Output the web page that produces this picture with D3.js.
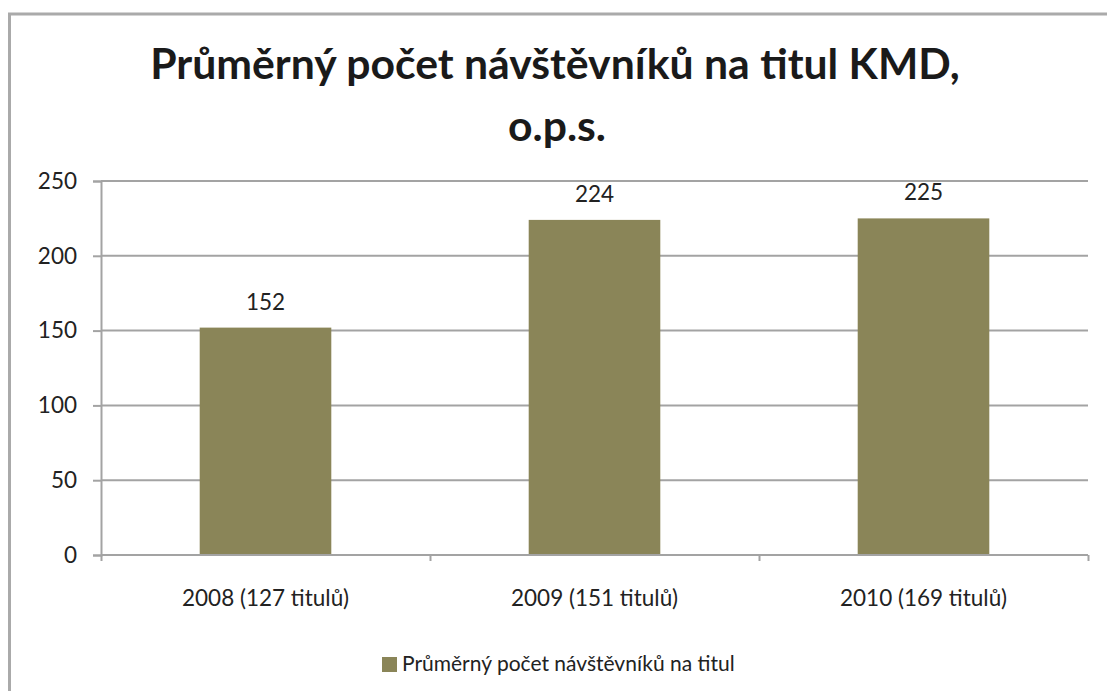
<!DOCTYPE html>
<html>
<head>
<meta charset="utf-8">
<script src="https://cdn.jsdelivr.net/npm/d3@7"></script>
<style>
  html, body { margin: 0; padding: 0; background: #fff; }
  svg { display: block; }
</style>
</head>
<body>
<svg id="chart" width="1107" height="691"></svg>
<script>
const categories = ["2008 (127 titulů)", "2009 (151 titulů)", "2010 (169 titulů)"];
const values = [152, 224, 225];
const yTicks = [0, 50, 100, 150, 200, 250];
const titleLines = ["Průměrný počet návštěvníků na titul KMD,", "o.p.s."];
const seriesName = "Průměrný počet návštěvníků na titul";

(function () {
const W = 1107, H = 691;
const svg = d3.select("#chart");
const barColor = "#8a8558";
const gridColor = "#a3a3a3";
const textColor = "#222";
const font = "Lato, 'Open Sans', sans-serif";
const axisFs = 22.5;

// outer frame
svg.append("rect")
  .attr("x", 9.5).attr("y", 14)
  .attr("width", W + 20).attr("height", H + 20)
  .attr("fill", "#fff")
  .attr("stroke", "#aaaaaa").attr("stroke-width", 3);

// title
const t1 = svg.append("text")
  .attr("x", 555).attr("y", 79)
  .attr("text-anchor", "middle")
  .attr("font-family", font).attr("font-weight", "bold")
  .attr("font-size", 40).attr("fill", "#1a1a1a")
  .text(titleLines[0]);
const w1 = t1.node().getComputedTextLength();
const fs = 40 * 810 / w1;
t1.attr("font-size", fs);
svg.append("text")
  .attr("x", 557).attr("y", 141)
  .attr("text-anchor", "middle")
  .attr("font-family", font).attr("font-weight", "bold")
  .attr("font-size", fs).attr("fill", "#1a1a1a")
  .text(titleLines[1]);

// scales
const pLeft = 101, pRight = 1088, pTop = 181, pBottom = 555;
const x = d3.scaleBand().domain(categories).range([pLeft, pRight])
  .paddingInner(0.6).paddingOuter(0.3);
const y = d3.scaleLinear().domain([0, 250]).range([pBottom, pTop]);

// gridlines
svg.append("g").selectAll("line").data(yTicks.filter(d => d > 0)).join("line")
  .attr("x1", pLeft).attr("x2", pRight)
  .attr("y1", d => y(d)).attr("y2", d => y(d))
  .attr("stroke", gridColor).attr("stroke-width", 2);

// y axis
const yAxis = svg.append("g").attr("transform", `translate(${pLeft},0)`)
  .call(d3.axisLeft(y).tickValues(yTicks).tickSize(8).tickPadding(16));
yAxis.select(".domain").attr("stroke", gridColor).attr("stroke-width", 2);
yAxis.selectAll(".tick line").attr("stroke", gridColor).attr("stroke-width", 2);
yAxis.selectAll("text").attr("font-family", font).attr("font-size", axisFs)
  .attr("fill", textColor);

// bars
svg.append("g").selectAll("rect").data(values).join("rect")
  .attr("x", (d, i) => x(categories[i]))
  .attr("width", x.bandwidth())
  .attr("y", d => y(d))
  .attr("height", d => y(0) - y(d))
  .attr("fill", barColor);

// x axis
const xb = d3.scaleLinear().domain([0, categories.length]).range([pLeft, pRight]);
const xAxis = svg.append("g").attr("transform", `translate(0,${pBottom})`)
  .call(d3.axisBottom(xb).tickValues([0, 1, 2, 3]).tickSize(6).tickFormat(""));
xAxis.select(".domain").attr("stroke", gridColor).attr("stroke-width", 2)
  .attr("d", `M${pLeft},0H${pRight}`);
xAxis.selectAll(".tick line").attr("stroke", gridColor).attr("stroke-width", 2);

svg.append("g").selectAll("text").data(categories).join("text")
  .attr("x", d => x(d) + x.bandwidth() / 2)
  .attr("y", pBottom + 51)
  .attr("text-anchor", "middle")
  .attr("font-family", font).attr("font-size", axisFs).attr("fill", textColor)
  .text(d => d);

// data labels
svg.append("g").selectAll("text").data(values).join("text")
  .attr("x", (d, i) => x(categories[i]) + x.bandwidth() / 2)
  .attr("y", d => y(d) - 18)
  .attr("text-anchor", "middle")
  .attr("font-family", font).attr("font-size", axisFs).attr("fill", textColor)
  .text(d => d);

// legend
const lg = svg.append("g");
lg.append("rect").attr("x", 382).attr("y", 657).attr("width", 15).attr("height", 15)
  .attr("fill", barColor);
lg.append("text").attr("x", 402).attr("y", 671)
  .attr("font-family", font).attr("font-size", 21).attr("fill", textColor)
  .text(seriesName);
})();
</script>
</body>
</html>
